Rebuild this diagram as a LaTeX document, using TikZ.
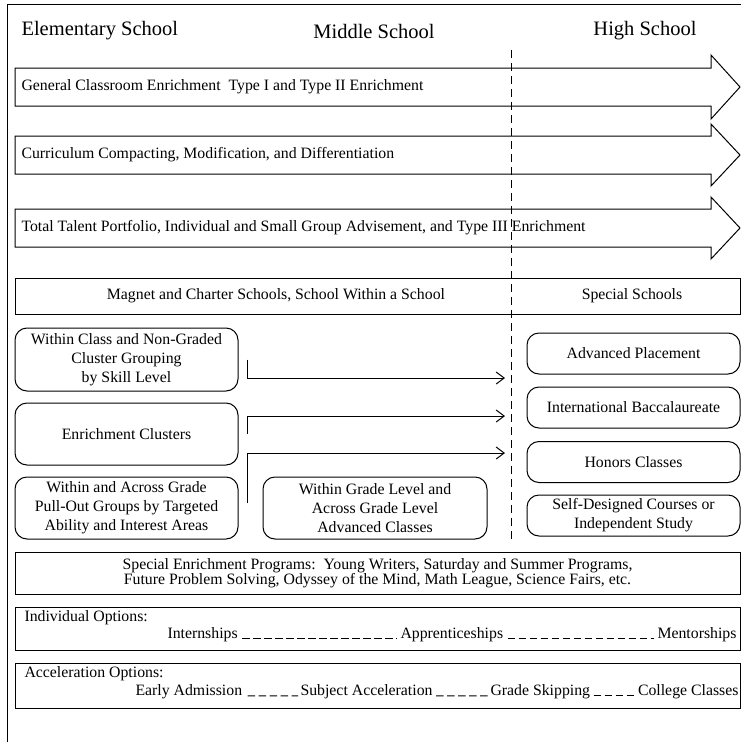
\documentclass[tikz,border=0pt]{standalone}
\usepackage{fontspec}
\setmainfont{Liberation Serif}
\usetikzlibrary{arrows.meta,calc}

\begin{document}
\begin{tikzpicture}[x=1pt,y=-1pt,line width=1pt,
    plain/.style={font=\fontsize{15.8}{19}\selectfont,inner sep=0pt},
    head/.style={font=\fontsize{20.5}{24}\selectfont,inner sep=0pt},
    optbox/.style={plain,draw,rounded corners=12pt,align=center},
    bandbox/.style={draw,minimum width=725pt,inner sep=0pt},
    link/.style={-{Straight Barb[length=8pt,width=12pt]}},
    underdash/.style={dash pattern=on 7.5pt off 3.5pt}]

    \useasboundingbox (0,0) rectangle (741,742);
    \draw (7,742) -- (7,4) -- (741,4);

    \node[head,anchor=west] (HElem) at (21,31) {Elementary School};
    \node[head] (HMid) at (374,31) {Middle School};
    \node[head] (HHigh) at (645,31) {High School};

    \draw[dash pattern=on 8pt off 5pt] (511,50) -- (511,543);

    % enrichment arrows
    \draw (15,68) -- (711,68) -- (711,55) -- (740,87) -- (711,119) -- (711,106) -- (15,106) -- cycle;
    \node[plain,anchor=west] (AGen) at (21,87) {General Classroom Enrichment\ \ Type I and Type II Enrichment};
    \draw (15,136) -- (711,136) -- (711,124) -- (740,155) -- (711,186) -- (711,174) -- (15,174) -- cycle;
    \node[plain,anchor=west] (ACurr) at (21,155) {Curriculum Compacting, Modification, and Differentiation};
    \draw (15,209) -- (711,209) -- (711,197) -- (740,228) -- (711,259) -- (711,247) -- (15,247) -- cycle;
    \node[plain,anchor=west] (ATal) at (21,228) {Total Talent Portfolio, Individual and Small Group Advisement, and Type III Enrichment};

    \node[bandbox,minimum height=36pt] (BMag) at (377.5,296) {};
    \node[plain] (TMag) at (276,296) {Magnet and Charter Schools, School Within a School};
    \node[plain] (TSpec) at (632,296) {Special Schools};

    % grouping options
    \node[optbox,minimum width=223pt,minimum height=63pt] (BWithin) at (126.5,359.5) {Within Class and Non-Graded\\Cluster Grouping\\by Skill Level};
    \node[optbox,minimum width=223pt,minimum height=62pt] (BClust) at (126.5,434) {Enrichment Clusters};
    \node[optbox,minimum width=223pt,minimum height=62pt] (BPull) at (126.5,508) {Within and Across Grade\\Pull-Out Groups by Targeted\\Ability and Interest Areas};
    \node[optbox,minimum width=224pt,minimum height=62pt] (BGrade) at (375,508) {Within Grade Level and\\Across Grade Level\\Advanced Classes};

    \node[optbox,minimum width=213pt,minimum height=41pt] (BAP) at (633.5,353.5) {Advanced Placement};
    \node[optbox,minimum width=213pt,minimum height=41pt] (BIB) at (633.5,407.5) {International Baccalaureate};
    \node[optbox,minimum width=213pt,minimum height=41pt] (BHon) at (633.5,462) {Honors Classes};
    \node[optbox,minimum width=213pt,minimum height=41pt] (BSelf) at (633.5,515.5) {Self-Designed Courses or\\Independent Study};

    \coordinate (JA) at (505,378);
    \coordinate (JB) at (505,416);
    \coordinate (JC) at (505,453);
    \draw[link] ([xshift=9pt]BWithin.east) |- (JA);
    \draw[link] ([xshift=9pt]BClust.east) |- (JB);
    \draw[link] ([xshift=9pt,yshift=5pt]BPull.east) |- (JC);

    % programs and options
    \node[bandbox,plain,align=center,minimum height=42pt] (BSEP) at (377.5,573) {Special Enrichment Programs:\ \ Young Writers, Saturday and Summer Programs,\\[-4pt]Future Problem Solving, Odyssey of the Mind, Math League, Science Fairs, etc.};

    \node[bandbox,minimum height=43pt] (BInd) at (377.5,628.5) {};
    \node[plain,anchor=west] (TInd) at (24,618) {Individual Options:};
    \node[plain,anchor=west] (TIntern) at (167,635) {Internships};
    \node[plain,anchor=west] (TAppr) at (400,635) {Apprenticeships};
    \node[plain,anchor=east] (TMent) at (737,635) {Mentorships};
    \draw[underdash] ([xshift=4pt]TIntern.base east) -- ([xshift=-3pt]TAppr.base west);
    \draw[underdash] ([xshift=4pt]TAppr.base east) -- ([xshift=-3pt]TMent.base west);

    \node[bandbox,minimum height=45pt] (BAcc) at (377.5,685.5) {};
    \node[plain,anchor=west] (TAcc) at (24,674) {Acceleration Options:};
    \node[plain,anchor=west] (TEarly) at (135,692) {Early Admission};
    \node[plain,anchor=west] (TSubj) at (300,692) {Subject Acceleration};
    \node[plain,anchor=west] (TSkip) at (490,692) {Grade Skipping};
    \node[plain,anchor=east] (TColl) at (739,692) {College Classes};
    \draw[underdash] ([xshift=5pt]TEarly.base east) -- ([xshift=-2pt]TSubj.base west);
    \draw[underdash] ([xshift=3pt]TSubj.base east) -- ([xshift=-2pt]TSkip.base west);
    \draw[underdash] ([xshift=3pt]TSkip.base east) -- ([xshift=-2pt]TColl.base west);
\end{tikzpicture}
\end{document}
